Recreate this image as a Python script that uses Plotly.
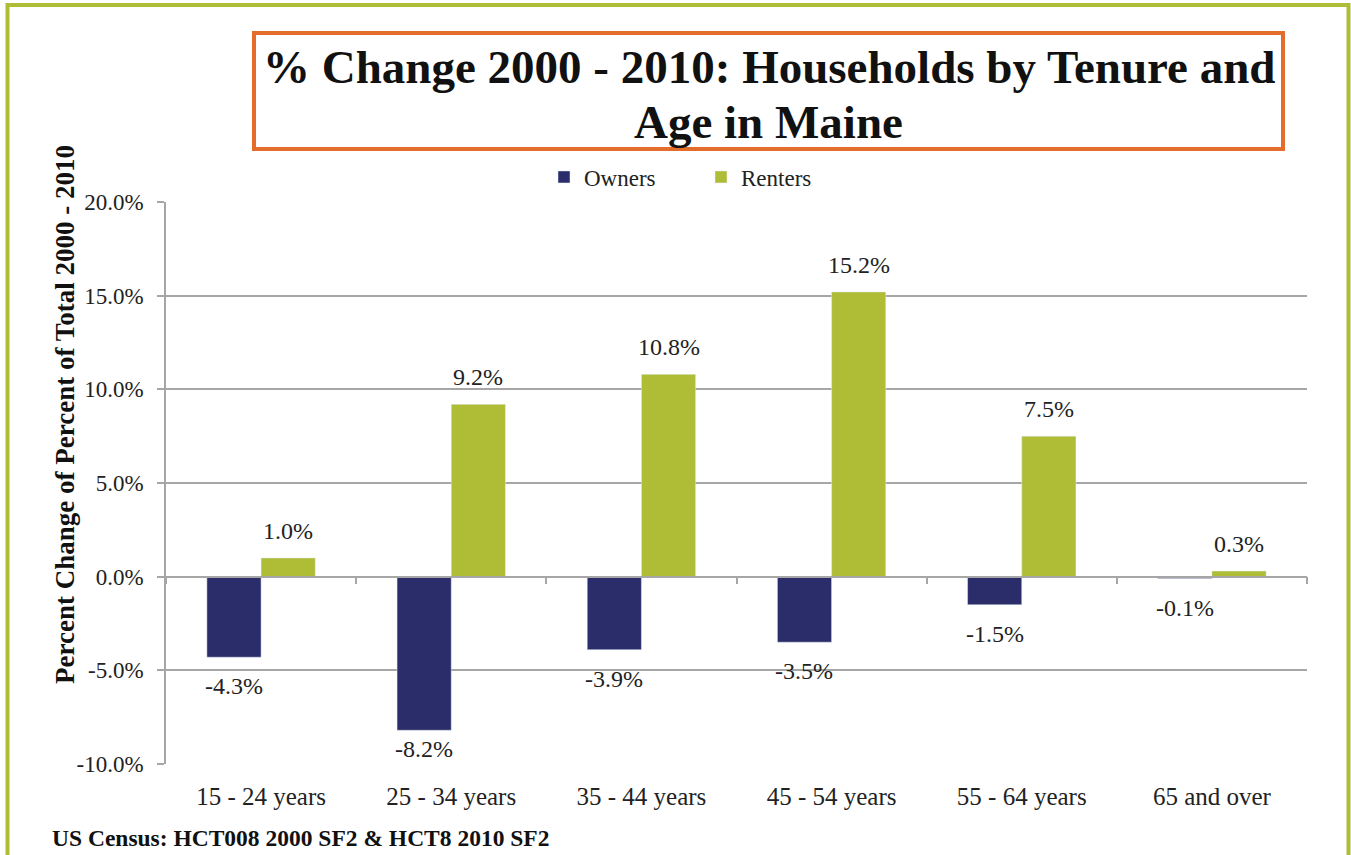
import plotly.graph_objects as go

# Data
age_groups = ['15 - 24 years', '25 - 34 years', '35 - 44 years',
              '45 - 54 years', '55 - 64 years', '65 and over']
owners = [-4.3, -8.2, -3.9, -3.5, -1.5, -0.1]
renters = [1.0, 9.2, 10.8, 15.2, 7.5, 0.3]
y_ticks = [-10, -5, 0, 5, 10, 15, 20]
y_tick_labels = ['-10.0%', '-5.0%', '0.0%', '5.0%', '10.0%', '15.0%', '20.0%']
Y_MIN, Y_MAX = -10, 20

W, H = 1351, 855
L, R, T, B = 166, 1307, 202, 764   # plot area in pixels

def px(x):
    return (x - L) / (R - L)

def py(y):
    return (B - y) / (B - T)

SERIF = 'Liberation Serif'
GRID = '#A6A6A6'
NAVY = '#2A2D69'
GREEN = '#AFBD36'
ORANGE = '#E56D2B'
TXT = '#222222'
BARGAP = 0.43
LABEL_SIZE = 24
LABEL_PAD = 12

fig = go.Figure()
fig.add_trace(go.Bar(x=age_groups, y=owners, name='Owners', marker=dict(color=NAVY)))
fig.add_trace(go.Bar(x=age_groups, y=renters, name='Renters', marker=dict(color=GREEN)))

# invisible trace so the zero-line axis (ticks at category boundaries) gets drawn
fig.add_trace(go.Scatter(
    x=age_groups, y=[None] * len(age_groups), xaxis='x2',
    showlegend=False, hoverinfo='skip'
))

# value labels at the bar ends; like Excel, keep them inside the plot area
bar_w = (R - L) / len(age_groups) * (1 - BARGAP) / 2
ppu = (B - T) / (Y_MAX - Y_MIN)
labels = []
for vals, shift in ((owners, -bar_w / 2), (renters, bar_w / 2)):
    for cat, v in zip(age_groups, vals):
        lab = dict(x=cat, xref='x', yref='y', text=f'{v:.1f}%',
                   showarrow=False, xshift=shift,
                   font=dict(family=SERIF, size=LABEL_SIZE, color=TXT))
        if v >= 0:
            lab.update(y=v, yanchor='bottom', yshift=LABEL_PAD)
        elif (v - Y_MIN) * ppu < LABEL_PAD + 2 + LABEL_SIZE * 1.2:
            lab.update(y=Y_MIN, yanchor='bottom', yshift=0)
        else:
            lab.update(y=v, yanchor='top', yshift=-LABEL_PAD - 2)
        labels.append(lab)

fig.update_layout(
    width=W, height=H,
    margin=dict(l=L, r=W - R, t=T, b=H - B),
    paper_bgcolor='white', plot_bgcolor='white',
    barmode='group', bargap=BARGAP, bargroupgap=0,
    font=dict(family=SERIF, size=24, color=TXT),
    showlegend=True,
    legend=dict(
        orientation='h', x=px(544), y=py(177), xanchor='left', yanchor='middle',
        font=dict(family=SERIF, size=23, color=TXT),
        entrywidth=112, entrywidthmode='pixels',
        bgcolor='rgba(0,0,0,0)'
    ),
    xaxis=dict(
        type='category', showline=False, ticks='', showgrid=False,
        ticklabelstandoff=15,
        tickfont=dict(family=SERIF, size=25, color=TXT)
    ),
    xaxis2=dict(
        type='category', overlaying='x', matches='x', anchor='free',
        position=(0 - Y_MIN) / (Y_MAX - Y_MIN), side='bottom',
        showline=True, linecolor=GRID, linewidth=1.5,
        ticks='outside', tickson='boundaries', ticklen=7, tickcolor=GRID,
        tickwidth=1.5, showticklabels=False, showgrid=False
    ),
    yaxis=dict(
        range=[Y_MIN, Y_MAX], tickvals=y_ticks, ticktext=y_tick_labels,
        showgrid=True, gridcolor=GRID, gridwidth=1.5,
        zeroline=False,
        showline=True, linecolor=GRID, linewidth=1.5,
        ticks='outside', ticklen=7, tickcolor=GRID, tickwidth=1.5,
        ticklabelstandoff=9,
        tickfont=dict(family=SERIF, size=23, color=TXT)
    ),
    shapes=[
        # outer green frame
        dict(type='rect', xref='paper', yref='paper',
             x0=px(7.5), x1=px(1348.5), y0=py(900), y1=py(5),
             line=dict(color=GREEN, width=4), layer='below'),
        # orange title box
        dict(type='rect', xref='paper', yref='paper',
             x0=px(254), x1=px(1283), y0=py(149), y1=py(33),
             line=dict(color=ORANGE, width=4), fillcolor='white'),
    ],
    annotations=labels + [
        # title, two lines
        dict(text='<b>% Change 2000 - 2010: Households by Tenure and</b>',
             xref='paper', yref='paper', x=px(768.5), y=py(67),
             xanchor='center', yanchor='middle', showarrow=False,
             font=dict(family=SERIF, size=47, color='#111111')),
        dict(text='<b>Age in Maine</b>',
             xref='paper', yref='paper', x=px(768.5), y=py(122),
             xanchor='center', yanchor='middle', showarrow=False,
             font=dict(family=SERIF, size=47, color='#111111')),
        # y-axis title
        dict(text='<b>Percent Change of Percent of Total 2000 - 2010</b>',
             xref='paper', yref='paper', x=px(65), y=py(415),
             xanchor='center', yanchor='middle', textangle=-90, showarrow=False,
             font=dict(family=SERIF, size=27, color='#111111')),
        # source note
        dict(text='<b>US Census: HCT008 2000 SF2 &amp; HCT8 2010 SF2</b>',
             xref='paper', yref='paper', x=px(50), y=py(838),
             xanchor='left', yanchor='middle', showarrow=False,
             font=dict(family=SERIF, size=23.5, color='#111111')),
    ]
)

# drop the default page margin so the figure sits at the window's top-left corner
fig.write_html('out.html', config={'displayModeBar': False},
               post_script="document.body.style.margin='0';")
